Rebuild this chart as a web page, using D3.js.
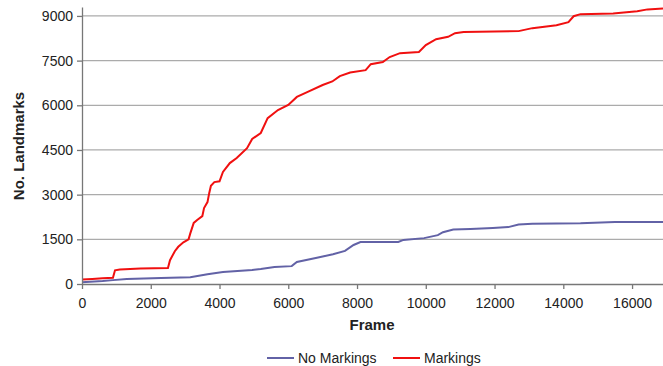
<!DOCTYPE html>
<html>
<head>
<meta charset="utf-8">
<script src="https://cdn.jsdelivr.net/npm/d3@7"></script>
<style>
  body { margin: 0; background: #fff; }
  text { font-family: "Liberation Sans", Arial, sans-serif; }
</style>
</head>
<body>
<div id="chart"></div>
<script>
// values: [frame, landmarks]
const markings = [[0,150],[300,170],[600,190],[900,210],[960,460],[1100,490],[1700,520],[2500,540],
  [2560,800],[2700,1100],[2800,1250],[2950,1400],[3100,1500],[3150,1700],[3250,2050],[3350,2150],
  [3500,2280],[3550,2550],[3650,2750],[3700,3050],[3750,3300],[3850,3420],[4000,3450],[4100,3760],
  [4300,4060],[4500,4230],[4800,4560],[4950,4870],[5200,5070],[5400,5570],[5700,5840],[6000,6010],
  [6250,6280],[6550,6440],[7000,6680],[7280,6800],[7500,6980],[7800,7100],[8250,7180],[8400,7380],
  [8750,7450],[8950,7620],[9250,7750],[9800,7790],[10000,8020],[10300,8220],[10650,8300],[10850,8420],
  [11100,8460],[12700,8490],[13100,8590],[13800,8690],[14150,8790],[14300,8990],[14500,9060],
  [15450,9080],[16150,9160],[16450,9220],[16900,9250]]

const noMarkings = [[0,60],[600,100],[900,130],[1300,170],[2300,200],[3150,230],[3650,330],[4100,400],
  [4950,470],[5200,500],[5600,570],[6100,600],[6250,740],[6800,870],[7300,1000],[7650,1110],[7900,1310],
  [8100,1410],[9200,1410],[9350,1480],[9950,1540],[10350,1640],[10500,1740],[10800,1830],[11300,1850],
  [11950,1880],[12400,1910],[12700,2000],[13100,2020],[14500,2040],[15500,2080],[16900,2080]]

const yTicks = [0, 1500, 3000, 4500, 6000, 7500, 9000]
const xTicks = [0, 2000, 4000, 6000, 8000, 10000, 12000, 14000, 16000]

const series = [
  {name: "No Markings", data: noMarkings, color: "#6262a6"},
  {name: "Markings", data: markings, color: "#f01010"}
]

const width = 663, height = 366
const svg = d3.select("#chart").append("svg")
  .attr("width", width)
  .attr("height", height)

const x = d3.scaleLinear().domain([0, 16900]).range([82, 663])
const y = d3.scaleLinear().domain([0, 9300]).range([284, 7])

// gridlines
svg.append("g")
  .selectAll("line")
  .data(yTicks.filter(d => d > 0))
  .join("line")
  .attr("x1", 82).attr("x2", 663)
  .attr("y1", d => y(d)).attr("y2", d => y(d))
  .attr("stroke", "#ababab")
  .attr("stroke-width", 1.3)

// lines
const line = d3.line().x(d => x(d[0])).y(d => y(d[1]))
svg.append("g")
  .selectAll("path")
  .data(series)
  .join("path")
  .attr("d", d => line(d.data))
  .attr("fill", "none")
  .attr("stroke", d => d.color)
  .attr("stroke-width", 2)

// axes
const fmt = d3.format("d")
svg.append("g")
  .attr("transform", "translate(82,0)")
  .call(d3.axisLeft(y).tickValues(yTicks).tickFormat(fmt).tickSize(5).tickSizeOuter(0).tickPadding(4))
svg.append("g")
  .attr("transform", "translate(0,284)")
  .call(d3.axisBottom(x).tickValues(xTicks).tickFormat(fmt).tickSize(5).tickSizeOuter(0).tickPadding(9))

svg.selectAll(".domain, .tick line").attr("stroke", "#777").attr("stroke-width", 1.3)
svg.selectAll(".tick text").attr("font-size", 14).attr("fill", "#222")
  .style("font-family", "'Liberation Sans', Arial, sans-serif")

// titles
svg.append("text")
  .attr("x", 372).attr("y", 330)
  .attr("text-anchor", "middle")
  .attr("font-size", 15).attr("font-weight", "bold").attr("fill", "#222")
  .text("Frame")

svg.append("text")
  .attr("transform", "translate(24,146) rotate(-90)")
  .attr("text-anchor", "middle")
  .attr("font-size", 15).attr("font-weight", "bold").attr("fill", "#222")
  .text("No. Landmarks")

// legend
const legendX = [267, 393]
const legend = svg.append("g")
  .selectAll("g")
  .data(series)
  .join("g")
  .attr("transform", (d, i) => `translate(${legendX[i]},358)`)
legend.append("line")
  .attr("x1", 0).attr("x2", 27)
  .attr("stroke", d => d.color)
  .attr("stroke-width", 2)
legend.append("text")
  .attr("x", 31).attr("y", 5)
  .attr("font-size", 14).attr("fill", "#222")
  .text(d => d.name)
</script>
</body>
</html>
